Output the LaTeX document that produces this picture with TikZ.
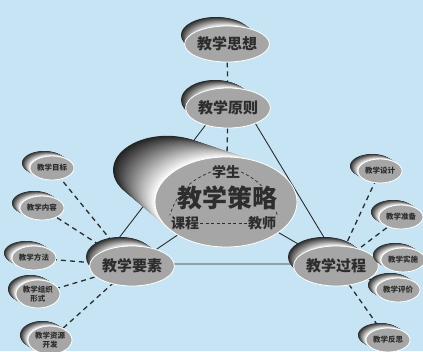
\documentclass[tikz,border=0pt]{standalone}
\usepackage{fontspec}
\newfontfamily\cjk{Noto Sans CJK SC}
\usetikzlibrary{shapes.geometric}

\definecolor{bgblue}{RGB}{198,228,244}
\definecolor{discgrey}{RGB}{166,166,166}
\definecolor{inkgrey}{RGB}{45,45,45}

\pgfdeclarelayer{backdrop}
\pgfdeclarelayer{lines}
\pgfdeclarelayer{labels}
\pgfsetlayers{backdrop,lines,main,labels}

% shaded extrusion behind a disc:
% [back scale] front x, front y, rx, ry, offset dx, dy
\newcommand\discshade[7][1]{%
  \foreach \k in {0,...,24}{%
    \pgfmathsetmacro\shadepct{86-3.58*\k}%
    \pgfmathsetmacro\radfac{#1+(1-#1)*\k/24}%
    \fill[black!\shadepct!white]
      ({#2-#6+#6*\k/24},{#3-#7+#7*\k/24})
      ellipse[x radius={#4*\radfac}, y radius={#5*\radfac}];
  }}

\tikzset{
  disc/.style={ellipse, fill=discgrey, draw=white, line width=0.8pt,
    inner sep=0pt, text=inkgrey, align=center},
  maindisc/.style={disc, minimum width=68pt, minimum height=40pt,
    font=\cjk\bfseries\fontsize{15}{15}\selectfont},
  smalldisc/.style={disc, minimum width=44pt, minimum height=24pt,
    font=\cjk\bfseries\fontsize{7.5}{8.5}\selectfont},
  minorlabel/.style={text=inkgrey, inner sep=1pt,
    font=\cjk\bfseries\fontsize{14}{14}\selectfont},
  spoke/.style={draw=inkgrey, line width=0.9pt},
  link/.style={draw=inkgrey, line width=1.3pt, dash pattern=on 5pt off 4pt},
  innerlink/.style={draw=inkgrey, line width=0.7pt, dash pattern=on 3pt off 2.5pt}
}

\begin{document}
\begin{tikzpicture}[x=1pt,y=-1pt]

\useasboundingbox (0,0) rectangle (423,351);
\begin{pgfonlayer}{backdrop}
\fill[bgblue] (0,0) rectangle (423,351);
\end{pgfonlayer}

% Central cylinder
\discshade[0.76]{226}{202}{71}{45}{59}{32}
\node[disc, minimum width=142pt, minimum height=90pt] (celue) at (226,202) {};

% Upper discs
\discshade{227}{44}{35}{18}{11}{9}
\node[maindisc, minimum width=70pt, minimum height=36pt] (sixiang) at (227,44) {教学思想};
\discshade{228}{108}{34}{20}{13}{8}
\node[maindisc] (yuanze) at (228,108) {教学原则};

% Corner discs
\discshade{132}{266}{34}{20}{12}{9}
\node[maindisc] (yaosu) at (132,266) {教学要素};
\discshade{336}{266}{36}{20}{12}{9}
\node[maindisc, minimum width=72pt] (guocheng) at (336,266) {教学过程};

% Left small discs
\discshade{52}{168}{22}{12}{8}{5}
\node[smalldisc] (mubiao) at (52,168) {教学目标};
\discshade{42}{208}{22}{12}{8}{5}
\node[smalldisc] (neirong) at (42,208) {教学内容};
\discshade{34}{258}{22}{12}{8}{5}
\node[smalldisc] (fangfa) at (34,258) {教学方法};
\discshade{38}{294}{22}{14}{8}{5}
\node[smalldisc, minimum height=28pt] (zuzhi) at (38,294) {教学组织\\形式};
\discshade{50}{340}{22}{14}{8}{5}
\node[smalldisc, minimum height=28pt] (ziyuan) at (50,340) {教学资源\\开发};

% Right small discs
\discshade{380}{171}{22}{12}{8}{5}
\node[smalldisc] (sheji) at (380,171) {教学设计};
\discshade{401}{217}{22}{12}{8}{5}
\node[smalldisc] (zhunbei) at (401,217) {教学准备};
\discshade{403}{260}{22}{12}{8}{5}
\node[smalldisc] (shishi) at (403,260) {教学实施};
\discshade{398}{290}{22}{12}{8}{5}
\node[smalldisc] (pingjia) at (398,290) {教学评价};
\discshade{388}{340}{22}{12}{8}{5}
\node[smalldisc] (fansi) at (388,340) {教学反思};

% Texts on the central disc
\begin{pgfonlayer}{labels}
\node[text=inkgrey, fill=discgrey, inner sep=0pt,
  font=\cjk\bfseries\fontsize{25}{25}\selectfont] (celuetext) at (227,198) {教学策略};
\node[minorlabel] (xuesheng) at (226,172) {学生};
\node[minorlabel] (kecheng) at (185,223) {课程};
\node[minorlabel] (jiaoshi) at (262,223) {教师};
\end{pgfonlayer}

\draw[innerlink] (kecheng) -- (jiaoshi);
\draw[innerlink] (xuesheng.west) to[bend right=25] (kecheng.north west);
\draw[innerlink] (xuesheng.east) to[bend left=25] (jiaoshi.north east);

% Connectors behind the discs
\begin{pgfonlayer}{lines}
\coordinate (apex) at (234,88);
\coordinate (leftfoot) at (99,264);
\coordinate (rightfoot) at (340,264);
\draw[spoke] (apex) -- (leftfoot) -- (rightfoot) -- cycle;
\draw[spoke] (celue.center) -- (yaosu.center);
\draw[spoke] (celue.center) -- (guocheng.center);

\draw[link] (sixiang) -- (yuanze);
\draw[link] (yuanze) -- (celue);

\foreach \item in {mubiao,neirong,fangfa,zuzhi,ziyuan}
  \draw[link] (\item.center) -- (yaosu.center);
\foreach \item in {sheji,zhunbei,shishi,pingjia,fansi}
  \draw[link] (\item.center) -- (guocheng.center);
\end{pgfonlayer}

\end{tikzpicture}
\end{document}
